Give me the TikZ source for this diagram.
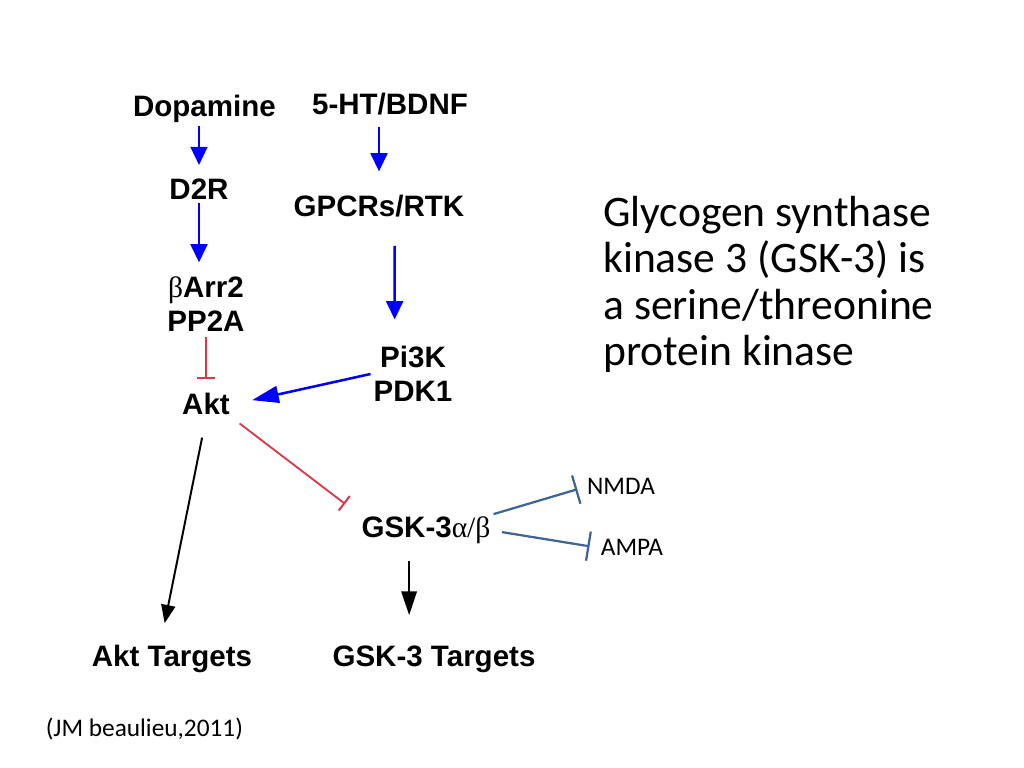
\documentclass[tikz,border=0pt]{standalone}
\usepackage{fontspec}
\setmainfont{Liberation Sans}
\newfontfamily\calib{Carlito}
\newfontfamily\grk{Liberation Serif}
\usetikzlibrary{arrows.meta,positioning}
\definecolor{inhred}{RGB}{220,55,70}
\definecolor{steel}{RGB}{65,100,150}
\newcommand\gk[1]{{\grk\mdseries #1}}
\tikzset
{
    molecule/.style = {font=\bfseries\fontsize{21}{24}\selectfont, align=center, inner sep=2pt},
    note/.style     = {font=\calib\fontsize{18}{22}\selectfont, inner sep=1pt},
    act/.style      = {blue, line width=1.8pt, -{Triangle[width=12pt,length=13pt]}},
    go/.style       = {black, line width=1.4pt, -{Triangle[width=10pt,length=13pt]}},
    inhibit/.style  = {inhred, line width=1.3pt, -{Bar[width=13pt,line width=1.4pt]}},
    block/.style    = {steel, line width=1.6pt, -{Bar[width=21pt,line width=1.6pt]}}
}
\begin{document}
\begin{tikzpicture}
\path[fill=white] (0,0) rectangle (25.6,19.2);
\useasboundingbox (0,0) rectangle (25.6,19.2);
% left column
\node(dopa) [molecule,anchor=base] at (5.11,16.275) {Dopamine};
\node(d2r) [molecule,anchor=base] at (4.975,14.2) {D2R};
\node(barr) [molecule] at (5.15,11.6) {\gk{β}Arr2\\PP2A};
\node(akt) [molecule,anchor=base] at (5.15,8.825) {Akt};
% right column
\node(ht) [molecule,anchor=base] at (9.75,16.325) {5-HT/BDNF};
\node(gpcr) [molecule,anchor=base] at (9.475,13.775) {GPCRs/RTK};
\node(pi3k) [molecule] at (10.325,9.85) {Pi3K\\PDK1};
\node(gsk) [molecule,anchor=base] at (10.65,5.75) {GSK-3\gk{α/β}};
\node(akttgt) [molecule,anchor=base] at (4.3,2.525) {Akt Targets};
\node(gsktgt) [molecule,anchor=base] at (10.85,2.525) {GSK-3 Targets};
\node(nmda) [note,anchor=base] at (15.525,6.825) {NMDA};
\node(ampa) [note,anchor=base] at (15.8,5.3) {AMPA};
% text
\node(gsktext) [font=\calib\fontsize{31}{33}\selectfont, align=left, anchor=north west, inner sep=0pt] at (15.075,14.3)
    {Glycogen synthase\\kinase 3 (GSK-3) is\\a serine/threonine\\protein kinase};
\node(cite) [note,anchor=base] at (3.61,0.775) {(JM beaulieu,2011)};
% arrows
\draw[act,shorten >=8pt] (dopa.south -| d2r.north) -- (d2r.north);
\draw[act,shorten <=6pt,shorten >=15pt] (ht.south -| gpcr.north) -- (gpcr.north);
\draw[act,shorten >=8pt] (d2r.south) -- (barr.north -| d2r.south);
\draw[act,shorten <=18pt,shorten >=17pt] ([xshift=11pt]gpcr.south) -- ([xshift=-13pt]pi3k.north);
\draw[inhibit,shorten <=2pt,shorten >=8pt] (barr.south) -- (akt.north);
\draw[act,-{Triangle[width=12pt,length=19pt]},shorten >=14pt] (pi3k.west) -- (akt.east);
\draw[inhibit,shorten <=6pt,shorten >=12pt] (akt.south east) -- (gsk.north west);
\draw[go,shorten <=14pt,shorten >=14pt] (akt.south) -- ([xshift=-8pt]akttgt.north);
\coordinate (gskout) at ([xshift=-12pt]gsk.south);
\draw[go,-{Triangle[width=11pt,length=17pt]},shorten <=10pt,shorten >=20pt] (gskout) -- (gskout |- gsktgt.north);
\draw[block,shorten >=6pt] (gsk.north east) -- (nmda.west);
\draw[block,shorten <=6pt,shorten >=7pt] (gsk.east) -- (ampa.west);
\end{tikzpicture}
\end{document}
